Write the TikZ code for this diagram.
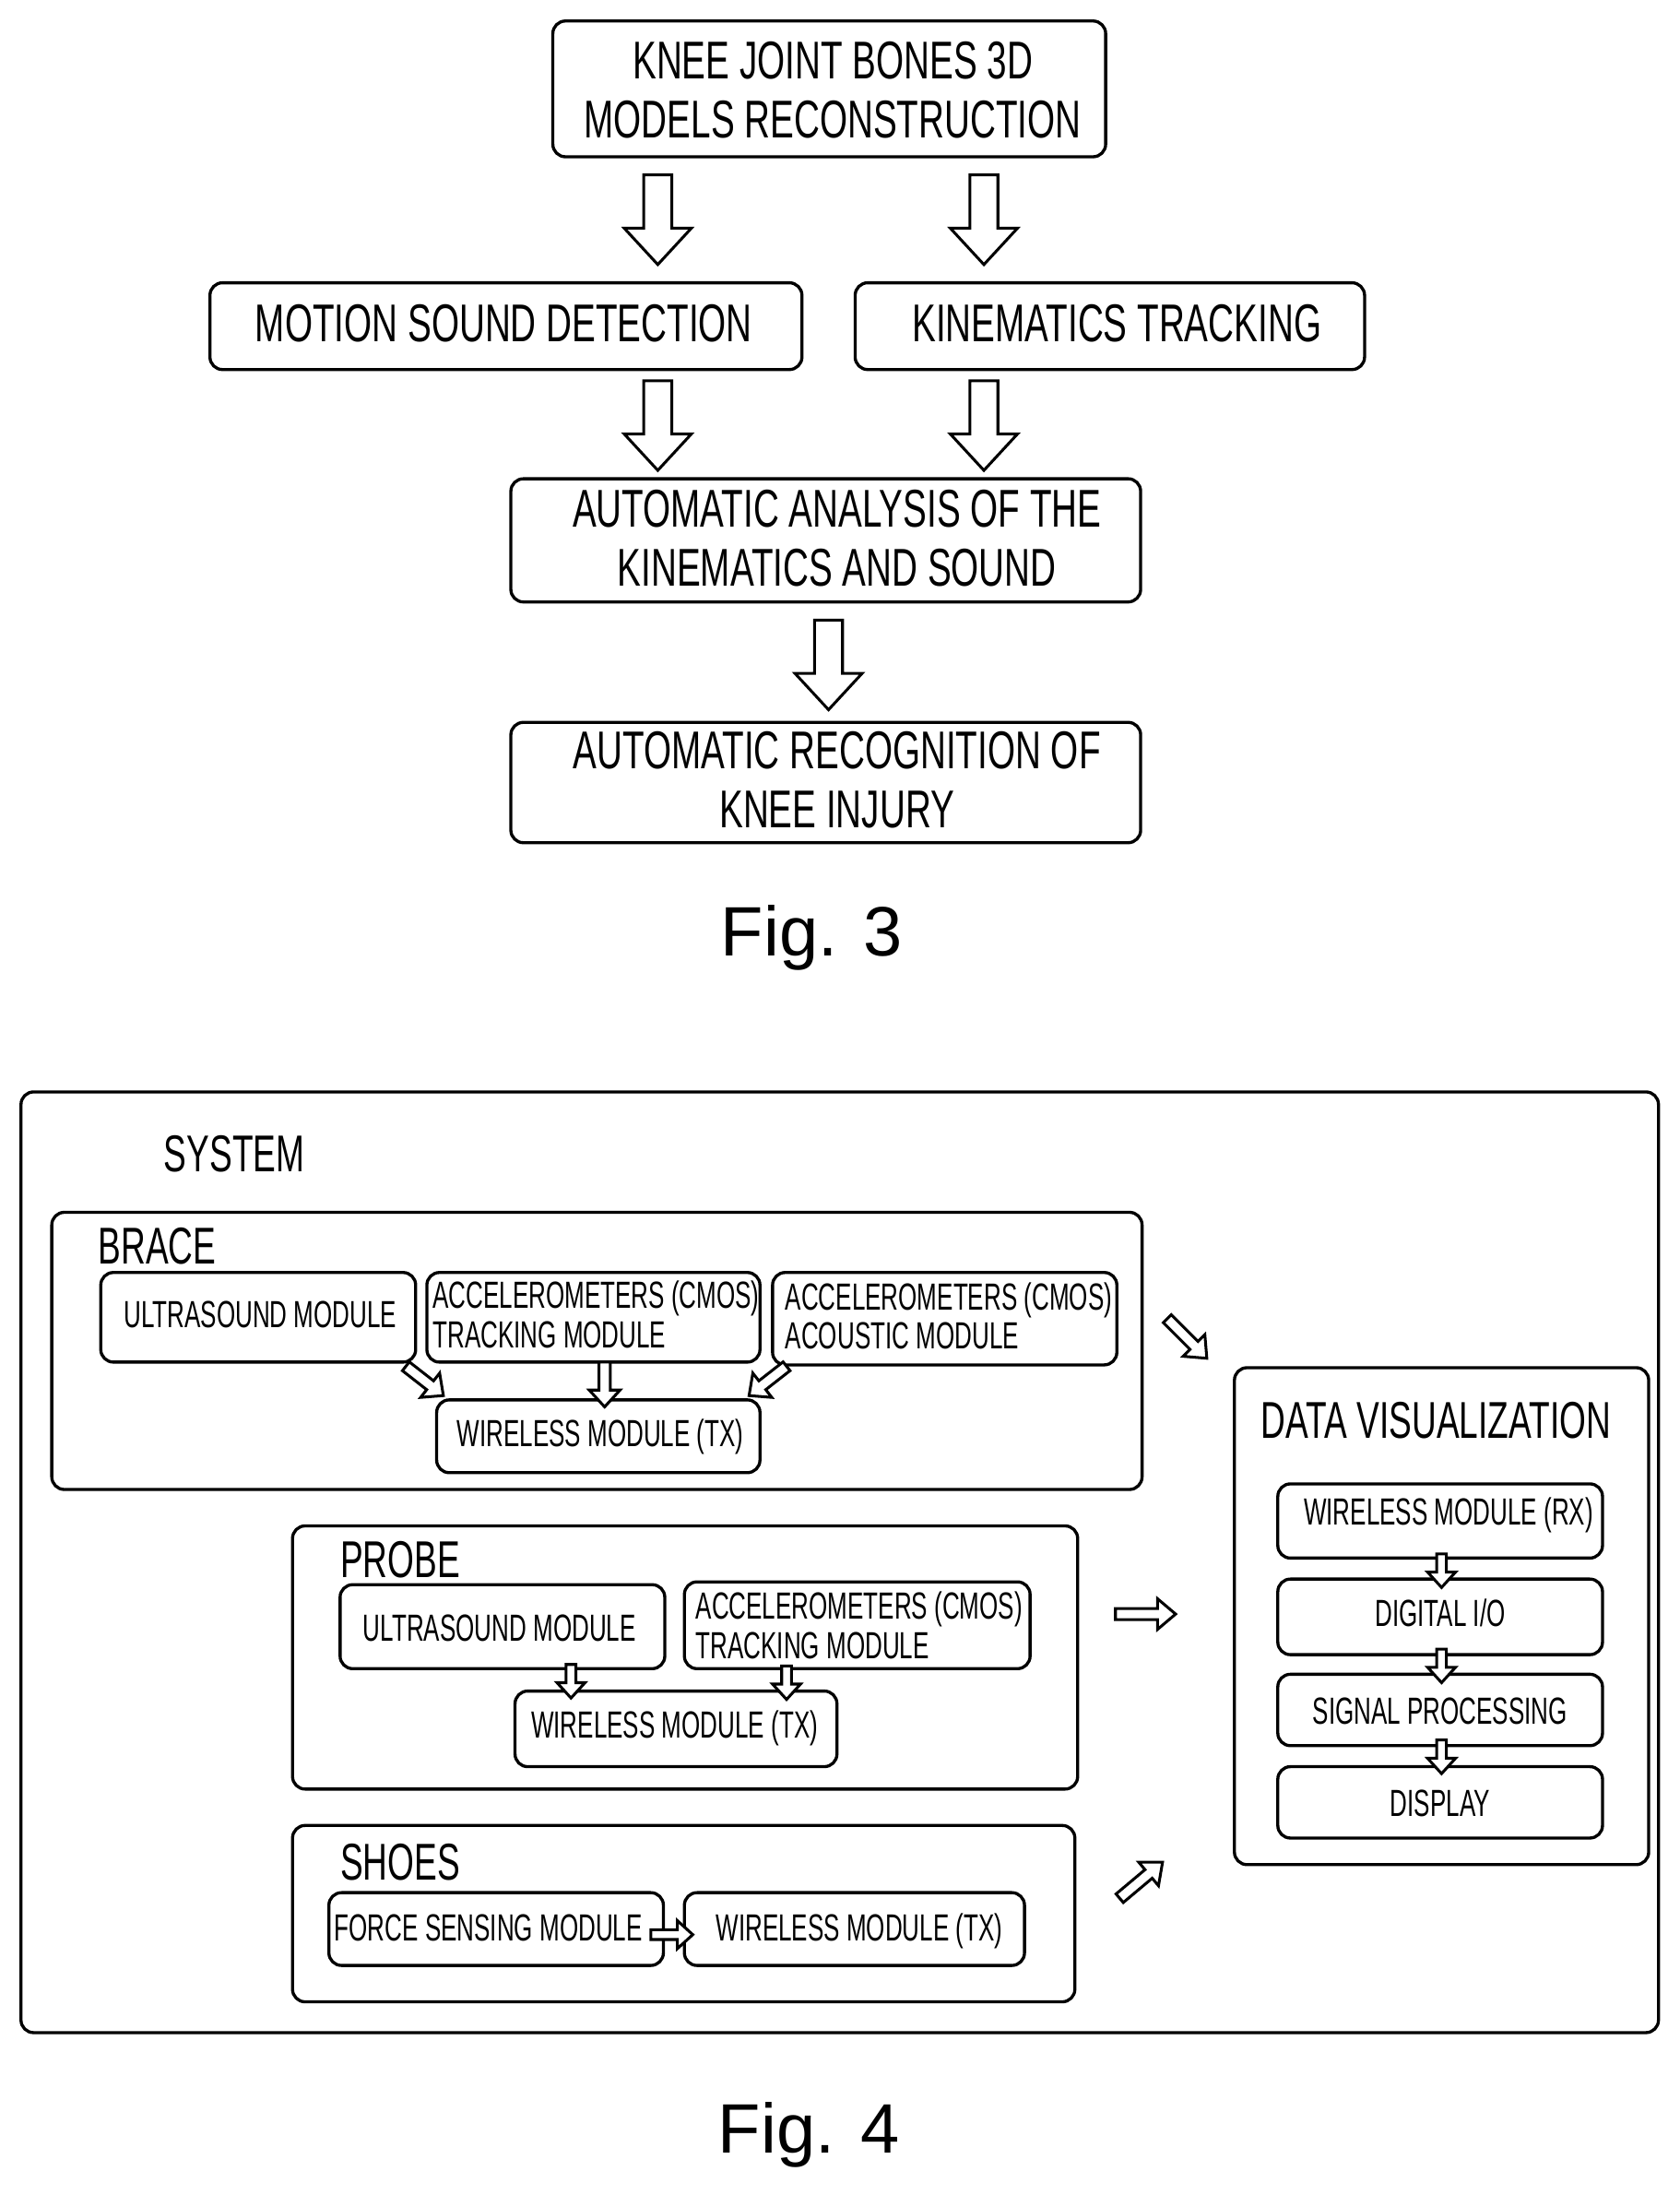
\documentclass[tikz,border=0pt]{standalone}
\usepackage{fontspec}
\usepackage{graphicx}
\setmainfont{Liberation Sans}
\newcommand\sqc[1]{\scalebox{0.67}[1]{\begin{tabular}{@{}c@{}}#1\end{tabular}}}
\newcommand\sqs[1]{\scalebox{0.635}[1]{\begin{tabular}{@{}c@{}}#1\end{tabular}}}
\newcommand\sql[1]{\scalebox{0.635}[1]{\begin{tabular}{@{}l@{}}#1\end{tabular}}}
\newcommand\sqlab[1]{\scalebox{0.66}[1]{#1}}
\begin{document}
\begin{tikzpicture}[x=1pt,y=-1pt,
  box/.style={draw,line width=2.2pt,rounded corners=9pt},
  big/.style={font=\fontsize{38}{42}\selectfont,inner sep=0pt},
  sm/.style={font=\fontsize{27}{28}\selectfont,inner sep=0pt},
  lab/.style={font=\fontsize{37}{40}\selectfont,anchor=west,inner sep=0pt},
  pics/harrow/.style args={#1/#2/#3/#4}{code={
    \draw[line width=2pt,fill=white,line join=miter] (0,-#2/2)--(#1-#4,-#2/2)--(#1-#4,-#3/2)--(#1,0)--(#1-#4,#3/2)--(#1-#4,#2/2)--(0,#2/2)--cycle;}}
]
\useasboundingbox (0,0) rectangle (1200,1568);
% Fig 3
\draw[box] (395,15) rectangle (790,112);
\node[big] (t1) at (595,69) {\sqc{KNEE JOINT BONES 3D\\MODELS RECONSTRUCTION}};
\draw[box] (150,202) rectangle (573,264);
\node[big] (t2) at (360,236) {\sqc{MOTION SOUND DETECTION}};
\draw[box] (611,202) rectangle (975,264);
\node[big] (t3) at (798,236) {\sqc{KINEMATICS TRACKING}};
\draw[box] (365,342) rectangle (815,430);
\node[big] (t4) at (598,389) {\sqc{AUTOMATIC ANALYSIS OF THE\\KINEMATICS AND SOUND}};
\draw[box] (365,516) rectangle (815,602);
\node[big] (t5) at (598,562) {\sqc{AUTOMATIC RECOGNITION OF\\KNEE INJURY}};
\foreach \x/\y in {470/125,703/125,470/272,703/272,592/443}
  \pic[rotate=-90] at (\x,\y) {harrow=64/20/48/26};
\node[font=\fontsize{50}{54}\selectfont] (f3) at (580,670) {Fig. 3};
% Fig 4
\draw[box] (15,780) rectangle (1185,1452);
\node[lab] (sys) at (117,824) {\sqlab{SYSTEM}};
\draw[box] (37,866) rectangle (816,1064);
\node[lab] (br) at (70,890) {\sqlab{BRACE}};
\draw[box] (72,909) rectangle (297,973);
\node[sm] (b1) at (186,943) {\sqs{ULTRASOUND MODULE}};
\draw[box] (305,909) rectangle (543,973);
\node[sm,anchor=west] (b2) at (309,943) {\sql{ACCELEROMETERS (CMOS)\\TRACKING MODULE}};
\draw[box] (552,909) rectangle (798,975);
\node[sm,anchor=west] (b3) at (561,944) {\sql{ACCELEROMETERS (CMOS)\\ACOUSTIC MODULE}};
\draw[box] (312,1000) rectangle (543,1052);
\node[sm] (b4) at (429,1028) {\sqs{WIRELESS MODULE (TX)}};
\pic[rotate=-38] at (290,976) {harrow=34/8/22/12};
\pic[rotate=-90] at (432,973) {harrow=32/8/22/12};
\pic[rotate=-142] at (562,976) {harrow=34/8/22/12};
\pic[rotate=-45] at (834,942) {harrow=40/8/22/13};
\draw[box] (882,977) rectangle (1178,1332);
\node[lab] (dv) at (901,1015) {\sqlab{DATA VISUALIZATION}};
\draw[box] (913,1060) rectangle (1145,1113);
\node[sm] (d1) at (1035,1084) {\sqs{WIRELESS MODULE (RX)}};
\draw[box] (913,1128) rectangle (1145,1182);
\node[sm] (d2) at (1029,1156) {\sqs{DIGITAL I/O}};
\draw[box] (913,1196) rectangle (1145,1247);
\node[sm] (d3) at (1029,1226) {\sqs{SIGNAL PROCESSING}};
\draw[box] (913,1262) rectangle (1145,1313);
\node[sm] (d4) at (1029,1292) {\sqs{DISPLAY}};
\foreach \y in {1110,1178,1243}
  \pic[rotate=-90] at (1030,\y) {harrow=24/7/20/11};
\draw[box] (209,1090) rectangle (770,1278);
\node[lab] (pr) at (243,1114) {\sqlab{PROBE}};
\draw[box] (243,1132) rectangle (475,1192);
\node[sm] (p1) at (357,1167) {\sqs{ULTRASOUND MODULE}};
\draw[box] (489,1130) rectangle (736,1192);
\node[sm,anchor=west] (p2) at (497,1165) {\sql{ACCELEROMETERS (CMOS)\\TRACKING MODULE}};
\draw[box] (368,1208) rectangle (598,1262);
\node[sm] (p3) at (482,1236) {\sqs{WIRELESS MODULE (TX)}};
\pic[rotate=-90] at (408,1189) {harrow=24/7/20/11};
\pic[rotate=-90] at (562,1190) {harrow=24/7/20/11};
\pic at (797,1153) {harrow=43/8/22/13};
\draw[box] (209,1304) rectangle (768,1430);
\node[lab] (sh) at (243,1330) {\sqlab{SHOES}};
\draw[box] (235,1352) rectangle (474,1404);
\node[sm] (s1) at (349,1381) {\sqs{FORCE SENSING MODULE}};
\draw[box] (489,1352) rectangle (732,1404);
\node[sm] (s2) at (614,1381) {\sqs{WIRELESS MODULE (TX)}};
\pic at (465,1382) {harrow=30/7/20/11};
\pic[rotate=40] at (800,1356) {harrow=40/8/22/13};
\node[font=\fontsize{50}{54}\selectfont] (f4) at (578,1525) {Fig. 4};
\end{tikzpicture}
\end{document}
